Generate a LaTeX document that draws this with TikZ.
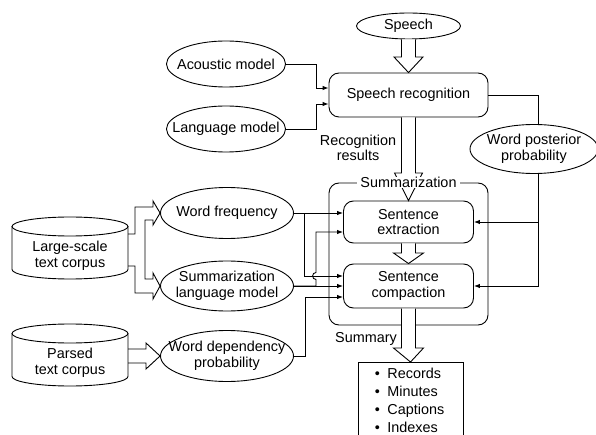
\documentclass[tikz,border=0pt]{standalone}
\usepackage{fontspec}
\setmainfont{Liberation Sans}
\usetikzlibrary{shapes.geometric,arrows.meta,calc}
\begin{document}
\begin{tikzpicture}[x=1pt,y=-1pt,line width=0.9pt,
  every node/.style={font=\fontsize{14.4}{15.5}\selectfont, inner sep=0pt},
  ell/.style={draw, ellipse, inner sep=0pt},
  rbox/.style={draw, rounded corners=10pt, align=center},
  arr/.style={-{Latex[length=6pt,width=4.5pt]}},
  blk/.style={draw, fill=white, line join=miter}]
\useasboundingbox (0,0) rectangle (596,435);
\clip (0,0) rectangle (596,435);

% nodes
\node[ell, minimum width=104pt, minimum height=26pt] (speech) at (408.5,26) {};
\node (speecht) at (speech) {Speech};
\node[rbox, minimum width=159pt, minimum height=44pt] (sr) at (408.5,95) {Speech recognition};
\node[ell, minimum width=119pt, minimum height=46pt] (am) at (226,64) {};
\node (amt) at (am) {Acoustic model};
\node[ell, minimum width=119pt, minimum height=46pt] (lm) at (226,129) {};
\node (lmt) at (lm) {Language model};
\node[ell, minimum width=128pt, minimum height=49pt] (wpp) at (534,149) {};
\node[align=center] (wppt) at (wpp) {Word posterior\\probability};
\node[draw, rounded corners=10pt, minimum width=159pt, minimum height=142pt] (summ) at (408.5,254) {};
\node[rbox, minimum width=130pt, minimum height=42pt] (se) at (408.5,222) {Sentence\\extraction};
\node[rbox, minimum width=130pt, minimum height=44pt] (sc) at (408.5,286) {Sentence\\compaction};
\node[ell, minimum width=133pt, minimum height=51pt] (wf) at (227,213) {};
\node (wft) at (wf) {Word frequency};
\node[ell, minimum width=133pt, minimum height=50pt] (slm) at (227,286) {};
\node[align=center] (slmt) at (slm) {Summarization\\language model};
\node[ell, minimum width=133pt, minimum height=51pt] (wdp) at (227,356) {};
\node[align=center] (wdpt) at (wdp) {Word dependency\\probability};
\node[draw, minimum width=105pt, minimum height=90pt, anchor=north] (outbox) at (410.5,362) {};

% cylinders
\draw (70,226.5) ellipse [x radius=58pt, y radius=9.5pt];
\draw (12,226.5) -- (12,269.5) .. controls (12,274.75) and (37.97,279) .. (70,279)
      .. controls (102.03,279) and (128,274.75) .. (128,269.5) -- (128,226.5);
\node[align=center] (lc) at (70,256) {Large-scale\\text corpus};
\draw (70,333.5) ellipse [x radius=58pt, y radius=9.5pt];
\draw (12,333.5) -- (12,376.5) .. controls (12,381.75) and (37.97,386) .. (70,386)
      .. controls (102.03,386) and (128,381.75) .. (128,376.5) -- (128,333.5);
\node[align=center] (pc) at (70,363) {Parsed\\text corpus};

% connectors
\draw[arr] (am.east) -- ++(30,0) |- ([yshift=7pt]sr.west);
\draw[arr] (lm.east) -- ++(30,0) |- ([yshift=-9pt]sr.west);
\draw (sr.east) -| ([xshift=4pt]wpp.north);
\draw[arr] ([xshift=4pt]wpp.south) |- (se.east);
\draw[arr] ([xshift=4pt]wpp.south) |- (sc.east);
\draw[arr] (wf.east) -- ([yshift=9pt]se.west);
\draw[arr] (wf.east) -- ++(10,0) |- ([yshift=10pt]sc.west);
\draw[arr] (slm.east) -- (sc.west);
\draw[arr] (slm.east) -- (316,286) -- (316,279.5) .. controls (311.5,279.5) and (311.5,272.5) .. (316,272.5) |- ([yshift=-10pt]se.west);
\draw[arr] (wdp.east) -- ++(11,0) |- ([yshift=-11pt]sc.west);

% block arrows (left)
\draw[line join=miter] (128,234) -- (135,234) -- (135,207) -- (153,207) -- (153,201) -- (wf.west)
  -- (153,225) -- (153,220) -- (145,220) -- (145,279) -- (153,279) -- (153,273) -- (slm.west)
  -- (153,299) -- (153,293) -- (135,293) -- (135,266) -- (128,266);
\draw[line join=miter] (128,349) -- (146,349) -- (146,343) -- (wdp.west) -- (146,369) -- (146,363) -- (128,363);

% block arrows (vertical)
\draw[blk] (401.5,39.5) -- (401.5,57) -- (394,57) -- (sr.north) -- (423,57) -- (415.5,57) -- (415.5,39.5);
\draw[blk] (401.5,117.5) -- (401.5,173) -- (394.5,173) -- (se.north) -- (422.5,173) -- (415.5,173) -- (415.5,117.5);
\node[fill=white, inner xsep=3pt, inner ysep=0.5pt] (summlbl) at (summ.north) {Summarization};
\draw[blk] (401.5,243.5) -- (401.5,253) -- (393.5,253) -- (sc.north) -- (423.5,253) -- (415.5,253) -- (415.5,243.5);
\draw[blk] (401.5,308.5) -- (401.5,348) -- (393.5,348) -- (outbox.north) -- (423.5,348) -- (415.5,348) -- (415.5,308.5);

% labels
\node[align=center] (recres) at (358,148) {Recognition\\results};
\node (sumry) at (366,339) {Summary};
\node[anchor=base west] (r1) at (374.5,378) {\makebox[12.5pt][l]{•}Records};
\node[anchor=base west] (r2) at (374.5,396.3) {\makebox[12.5pt][l]{•}Minutes};
\node[anchor=base west] (r3) at (374.5,414.6) {\makebox[12.5pt][l]{•}Captions};
\node[anchor=base west] (r4) at (374.5,432.9) {\makebox[12.5pt][l]{•}Indexes};
\end{tikzpicture}
\end{document}
